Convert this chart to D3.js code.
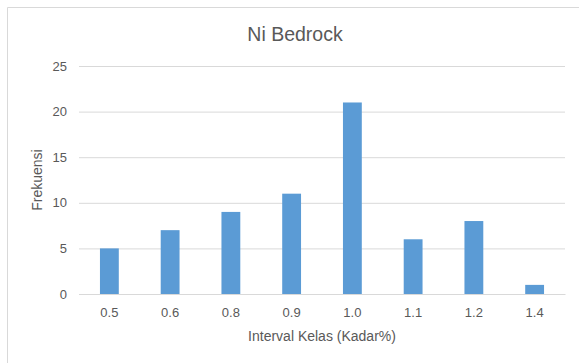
<!DOCTYPE html>
<html>
<head>
<meta charset="utf-8">
<script src="https://cdn.jsdelivr.net/npm/d3@7"></script>
<style>
  html, body { margin: 0; padding: 0; background: #fff; }
  svg { display: block; }
  text { font-family: "Liberation Sans", Arial, sans-serif; fill: #595959; }
</style>
</head>
<body>
<script>
// Frequency of Ni grade classes in bedrock
const categories = ["0.5", "0.6", "0.8", "0.9", "1.0", "1.1", "1.2", "1.4"];
const frequencies = [5, 7, 9, 11, 21, 6, 8, 1];
const yTicks = [0, 5, 10, 15, 20, 25];
const chartTitle = "Ni Bedrock";
const xTitle = "Interval Kelas (Kadar%)";
const yTitle = "Frekuensi";

const W = 579, H = 363;
const plot = { left: 79, right: 565, top: 66, bottom: 294 };

const svg = d3.select("body").append("svg")
  .attr("width", W).attr("height", H);

// chart frame (top and left edges visible)
svg.append("path")
  .attr("d", `M7.5,${H} V7.5 H${W}`)
  .attr("fill", "none")
  .attr("stroke", "#d9d9d9")
  .attr("stroke-width", 1);

const x = d3.scaleBand()
  .domain(categories)
  .range([plot.left, plot.right])
  .paddingInner(0.69)
  .paddingOuter(0.345);

const y = d3.scaleLinear()
  .domain([0, 25])
  .range([plot.bottom, plot.top]);

// horizontal gridlines
const yAxis = d3.axisLeft(y).tickValues(yTicks)
  .tickSize(-(plot.right - plot.left))
  .tickPadding(12)
  .tickFormat(d3.format("d"));

const gy = svg.append("g")
  .attr("transform", `translate(${plot.left},0)`)
  .call(yAxis);
gy.select(".domain").remove();
gy.selectAll(".tick line").attr("stroke", "#d9d9d9").attr("stroke-width", 1);
gy.selectAll(".tick text")
  .attr("font-size", 13)
  .attr("fill", "#595959");

// bars
svg.append("g").selectAll("rect")
  .data(frequencies)
  .join("rect")
  .attr("x", (d, i) => x(categories[i]))
  .attr("width", x.bandwidth())
  .attr("y", d => y(d))
  .attr("height", d => y(0) - y(d))
  .attr("fill", "#5b9bd5");

// category axis
const xAxis = d3.axisBottom(x).tickSize(0).tickPadding(14);
const gx = svg.append("g")
  .attr("transform", `translate(0,${plot.bottom})`)
  .call(xAxis);
gx.select(".domain").attr("stroke", "#d9d9d9");
gx.selectAll(".tick text")
  .attr("font-size", 13)
  .attr("fill", "#595959");

// titles
svg.append("text")
  .attr("x", (plot.left + plot.right) / 2 - 27)
  .attr("y", 41)
  .attr("text-anchor", "middle")
  .attr("font-size", 19.5)
  .text(chartTitle);

svg.append("text")
  .attr("x", (plot.left + plot.right) / 2)
  .attr("y", 341)
  .attr("text-anchor", "middle")
  .attr("font-size", 14)
  .text(xTitle);

svg.append("text")
  .attr("transform", `translate(42,${(plot.top + plot.bottom) / 2}) rotate(-90)`)
  .attr("text-anchor", "middle")
  .attr("font-size", 14)
  .text(yTitle);
</script>
</body>
</html>
